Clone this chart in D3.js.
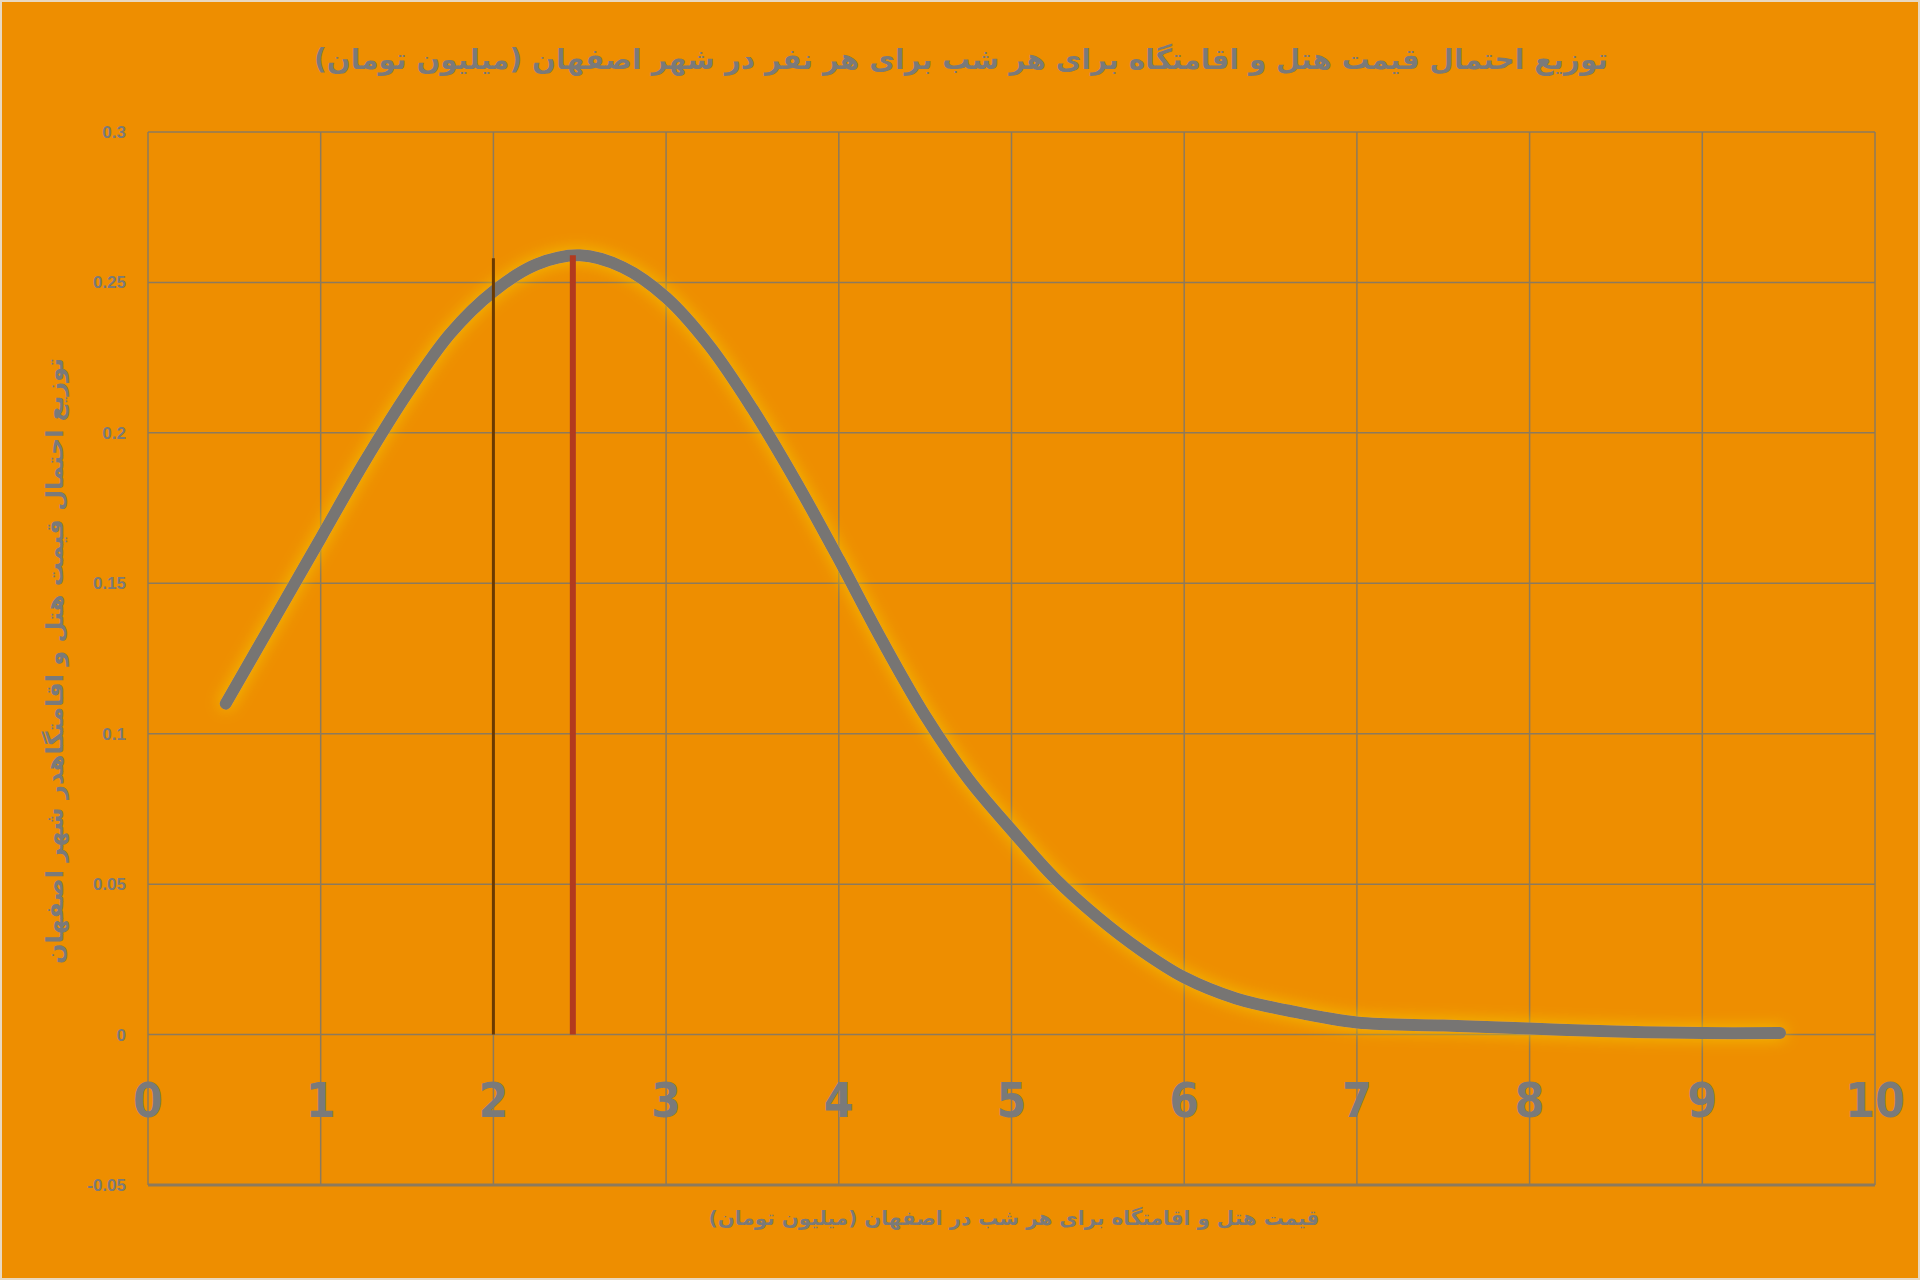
<!DOCTYPE html>
<html><head><meta charset="utf-8">
<script src="https://cdn.jsdelivr.net/npm/d3@7"></script>
<style>body{margin:0;background:#fff}svg{display:block}</style>
</head><body>
<script>
const xTicks = [0,1,2,3,4,5,6,7,8,9,10];
const yTicks = [-0.05,0,0.05,0.1,0.15,0.2,0.25,0.3];
const curveX = [0.45,0.75,1,1.25,1.5,1.75,2,2.25,2.5,2.75,3,3.25,3.5,3.75,4,4.25,4.5,4.75,5,5.25,5.5,5.75,6,6.3,6.6,7,7.5,8,8.5,9,9.45];
const curveY = [0.11,0.14,0.165,0.19,0.213,0.233,0.247,0.256,0.259,0.255,0.245,0.229,0.208,0.184,0.158,0.131,0.106,0.085,0.068,0.052,0.039,0.028,0.019,0.012,0.008,0.004,0.003,0.002,0.001,0.0005,0.0005];
const refLines = [{x:2, top:0.258, color:"#6b3a00", w:3}, {x:2.46, top:0.259, color:"#b23a1e", w:6}];
const title = "توزیع احتمال قیمت هتل و اقامتگاه برای هر شب برای هر نفر در شهر اصفهان (میلیون تومان)";
const xTitle = "قیمت هتل و اقامتگاه برای هر شب در اصفهان (میلیون تومان)";
const yTitle = "توزیع احتمال قیمت هتل و اقامتگاهدر شهر اصفهان";

const W = 1920, H = 1280, L = 148, R = 1875, T = 132, B = 1185;
const svg = d3.select("body").append("svg").attr("width", W).attr("height", H)
  .style("font-family", "'DejaVu Sans', 'Noto Sans', sans-serif");
svg.append("rect").attr("x",1).attr("y",1).attr("width",W-2).attr("height",H-2)
  .attr("fill","#ee8e00").attr("stroke","#e8d8c0").attr("stroke-width",2);

const defs = svg.append("defs");
const f = defs.append("filter").attr("id","glow").attr("x","-20%").attr("y","-20%").attr("width","140%").attr("height","140%");
f.append("feGaussianBlur").attr("in","SourceAlpha").attr("stdDeviation",8).attr("result","b");
f.append("feFlood").attr("flood-color","#f3c000").attr("flood-opacity",1);
f.append("feComposite").attr("in2","b").attr("operator","in").attr("result","g");
const m = f.append("feMerge"); m.append("feMergeNode").attr("in","g"); m.append("feMergeNode").attr("in","SourceGraphic");

const x = d3.scaleLinear().domain([0,10]).range([L,R]);
const y = d3.scaleLinear().domain([-0.05,0.3]).range([B,T]);
const grid = "#8c7a5c";

svg.append("g").selectAll("line").data(xTicks).join("line")
  .attr("x1",d=>x(d)).attr("x2",d=>x(d)).attr("y1",T).attr("y2",B)
  .attr("stroke",grid).attr("stroke-width",1.5);
svg.append("g").selectAll("line").data(yTicks).join("line")
  .attr("x1",L).attr("x2",R).attr("y1",d=>y(d)).attr("y2",d=>y(d))
  .attr("stroke",grid).attr("stroke-width",d=>d===-0.05?3:1.5);

svg.append("g").selectAll("text").data(yTicks).join("text")
  .attr("x",L-22).attr("y",d=>y(d)).attr("dy","0.35em").attr("text-anchor","end")
  .attr("fill","#7a7a7a").attr("font-weight","bold").attr("font-size",17)
  .attr("font-family","'Liberation Sans Narrow',sans-serif")
  .text(d=>String(d));
svg.append("g").selectAll("text").data(xTicks).join("text")
  .attr("x",d=>x(d)).attr("y",y(0)+66).attr("dy","0.35em").attr("text-anchor","middle")
  .attr("fill","#7a7a7a").attr("font-weight","bold").attr("font-size",48)
  .attr("font-family","'Liberation Sans Narrow','DejaVu Sans Condensed',sans-serif")
  .text(d=>d);

const pts = curveX.map((d,i)=>[d,curveY[i]]);
svg.append("path").datum(pts)
  .attr("d", d3.line().x(d=>x(d[0])).y(d=>y(d[1])).curve(d3.curveCatmullRom))
  .attr("fill","none").attr("stroke","#777573").attr("stroke-width",12)
  .attr("stroke-linecap","round").attr("filter","url(#glow)");

svg.append("g").selectAll("line").data(refLines).join("line")
  .attr("x1",d=>x(d.x)).attr("x2",d=>x(d.x)).attr("y1",y(0)).attr("y2",d=>y(d.top))
  .attr("stroke",d=>d.color).attr("stroke-width",d=>d.w);

svg.append("text").attr("x",961).attr("y",59).attr("dy","0.35em").attr("text-anchor","middle")
  .attr("direction","rtl").attr("fill","#7a7a7a").attr("font-weight","bold").attr("font-size",28)
  .text(title);
svg.append("text").attr("x",1014).attr("y",1218).attr("dy","0.35em").attr("text-anchor","middle")
  .attr("direction","rtl").attr("fill","#7a7a7a").attr("font-weight","bold").attr("font-size",20)
  .text(xTitle);
svg.append("text").attr("transform","translate(55,661) rotate(-90)").attr("dy","0.35em").attr("text-anchor","middle")
  .attr("direction","rtl").attr("fill","#7a7a7a").attr("font-weight","bold").attr("font-size",24)
  .text(yTitle);
</script>
</body></html>
